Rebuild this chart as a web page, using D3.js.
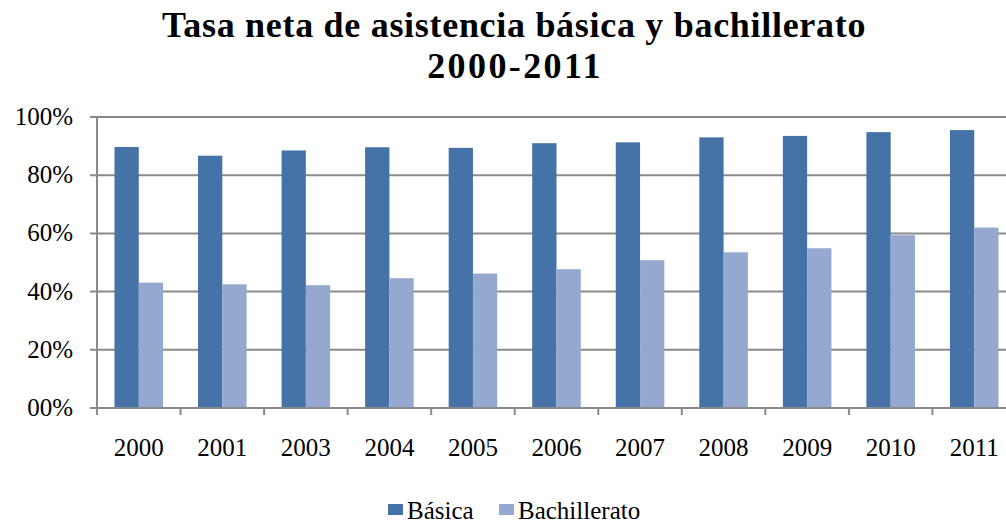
<!DOCTYPE html>
<html>
<head>
<meta charset="utf-8">
<script src="https://cdn.jsdelivr.net/npm/d3@7"></script>
<style>
  body { margin: 0; background: #fff; }
  text { font-family: "Liberation Serif", "DejaVu Serif", serif; fill: #000; }
</style>
</head>
<body>
<script>
// Chart data
const years = ["2000", "2001", "2003", "2004", "2005", "2006", "2007", "2008", "2009", "2010", "2011"];
const basica = [0.897, 0.867, 0.885, 0.896, 0.894, 0.910, 0.913, 0.930, 0.935, 0.948, 0.955];
const bachillerato = [0.431, 0.425, 0.422, 0.446, 0.462, 0.477, 0.508, 0.535, 0.549, 0.594, 0.620];
const seriesNames = ["Básica", "Bachillerato"];
const yTicks = [0, 0.2, 0.4, 0.6, 0.8, 1.0];
const yTickLabels = ["00%", "20%", "40%", "60%", "80%", "100%"];

const colors = ["#4572a7", "#95a9d0"];

// SVG size
const svgWidth = 1006;
const svgHeight = 523;

// plot area (chart runs past the right edge, like the reference)
const plot = { left: 97, top: 117, bottom: 408, right: 1016 };

const svg = d3.select("body")
  .append("svg")
  .attr("width", svgWidth)
  .attr("height", svgHeight);

// Title
const title = svg.append("text")
  .attr("text-anchor", "middle")
  .style("font-weight", "bold")
  .style("font-size", "36px");
title.append("tspan")
  .attr("x", 514).attr("y", 37)
  .style("letter-spacing", "0.7px")
  .text("Tasa neta de asistencia básica y bachillerato");
title.append("tspan")
  .attr("x", 515).attr("y", 78)
  .style("letter-spacing", "2.4px")
  .text("2000-2011");

// Scales
const x0 = d3.scaleBand()
  .domain(years)
  .range([plot.left, plot.right])
  .padding(0);

const x1 = d3.scaleBand()
  .domain(seriesNames)
  .range([0, x0.bandwidth()])
  .paddingInner(0)
  .paddingOuter(0.72);

const y = d3.scaleLinear()
  .domain([0, 1])
  .range([plot.bottom, plot.top]);

// Gridlines
svg.append("g")
  .selectAll("line")
  .data(yTicks)
  .enter()
  .append("line")
  .attr("x1", plot.left - 7)
  .attr("x2", svgWidth)
  .attr("y1", d => y(d))
  .attr("y2", d => y(d))
  .attr("stroke", "#8a8a8a")
  .attr("stroke-width", 2);

// Y axis labels
svg.append("g")
  .selectAll("text")
  .data(yTicks)
  .enter()
  .append("text")
  .attr("x", 73)
  .attr("y", d => y(d) + 8)
  .attr("text-anchor", "end")
  .style("font-size", "25px")
  .text((d, i) => yTickLabels[i]);

// Bars
const rows = years.map((yr, i) => ({ year: yr, values: [basica[i], bachillerato[i]] }));

const groups = svg.append("g")
  .selectAll("g")
  .data(rows)
  .enter()
  .append("g")
  .attr("transform", d => `translate(${x0(d.year)},0)`);

groups.selectAll("rect")
  .data(d => d.values.map((v, j) => ({ name: seriesNames[j], value: v, j: j })))
  .enter()
  .append("rect")
  .attr("x", d => x1(d.name))
  .attr("width", x1.bandwidth())
  .attr("y", d => y(d.value))
  .attr("height", d => y(0) - y(d.value))
  .attr("fill", d => colors[d.j]);

// Axis lines
svg.append("line")
  .attr("x1", plot.left).attr("x2", plot.left)
  .attr("y1", plot.top).attr("y2", plot.bottom)
  .attr("stroke", "#8a8a8a").attr("stroke-width", 2);

svg.append("line")
  .attr("x1", plot.left - 7).attr("x2", svgWidth)
  .attr("y1", plot.bottom).attr("y2", plot.bottom)
  .attr("stroke", "#8a8a8a").attr("stroke-width", 2);

// X ticks
svg.append("g")
  .selectAll("line")
  .data(years)
  .enter()
  .append("line")
  .attr("x1", d => x0(d))
  .attr("x2", d => x0(d))
  .attr("y1", plot.bottom)
  .attr("y2", plot.bottom + 7)
  .attr("stroke", "#8a8a8a")
  .attr("stroke-width", 2);

// X labels
svg.append("g")
  .selectAll("text")
  .data(years)
  .enter()
  .append("text")
  .attr("x", d => x0(d) + x0.bandwidth() / 2)
  .attr("y", 456)
  .attr("text-anchor", "middle")
  .style("font-size", "25px")
  .text(d => d);

// Legend
const legendItems = [
  { name: seriesNames[0], color: colors[0], box: 388, text: 407 },
  { name: seriesNames[1], color: colors[1], box: 499, text: 518 }
];

const legend = svg.append("g");
legend.selectAll("rect")
  .data(legendItems)
  .enter()
  .append("rect")
  .attr("x", d => d.box)
  .attr("y", 504)
  .attr("width", 15)
  .attr("height", 11)
  .attr("fill", d => d.color);

legend.selectAll("text")
  .data(legendItems)
  .enter()
  .append("text")
  .attr("x", d => d.text)
  .attr("y", 519)
  .style("font-size", "25px")
  .text(d => d.name);
</script>
</body>
</html>
